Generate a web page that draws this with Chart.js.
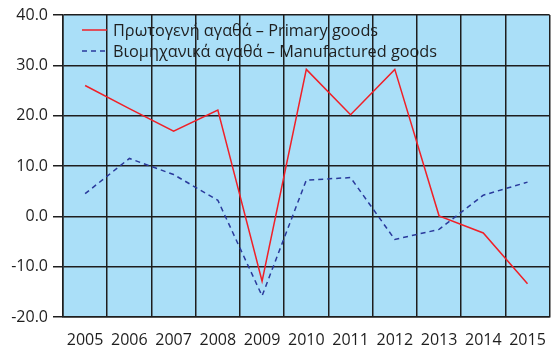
<!DOCTYPE html>
<html>
<head>
<meta charset="utf-8">
<script src="https://cdn.jsdelivr.net/npm/chart.js@4/dist/chart.umd.min.js"></script>
<style>
  html, body { margin: 0; padding: 0; background: #fff; overflow: hidden; }
  #wrap { width: 560px; height: 353px; }
</style>
</head>
<body>
<div id="wrap"><canvas id="tradeChart" width="560" height="353"></canvas></div>
<script>
// Annual change (%) by product group
const years = ["2005", "2006", "2007", "2008", "2009", "2010", "2011", "2012", "2013", "2014", "2015"];
const primaryGoods = [26.0, 21.4, 16.9, 21.1, -12.9, 29.2, 20.2, 29.2, 0.1, -3.3, -13.4];
const manufacturedGoods = [4.5, 11.5, 8.3, 3.2, -15.8, 7.2, 7.7, -4.6, -2.6, 4.2, 6.8];
const yTicks = [-20, -10, 0, 10, 20, 30, 40];

const FONT = "'Open Sans', 'Noto Sans', sans-serif";
const INK = "#1e1e1e";

// light blue fill behind the plot area
const plotBackground = {
    id: "plotBackground",
    beforeDraw(chart) {
        const { ctx, chartArea: a } = chart;
        ctx.save();
        ctx.fillStyle = "#aadff8";
        ctx.fillRect(a.left, a.top, a.right - a.left, a.bottom - a.top);
        ctx.restore();
    }
};

// legend drawn inside the plot, top left
const innerLegend = {
    id: "innerLegend",
    afterDatasetsDraw(chart) {
        const { ctx, chartArea: a } = chart;
        ctx.save();
        ctx.font = "16.3px " + FONT;
        ctx.textBaseline = "middle";
        chart.data.datasets.forEach((ds, i) => {
            const y = a.top + 15 + i * 21;
            const x = a.left + 19;
            ctx.strokeStyle = ds.borderColor;
            ctx.lineWidth = 1.5;
            ctx.setLineDash(ds.borderDash || []);
            ctx.beginPath();
            ctx.moveTo(x, y);
            ctx.lineTo(x + 25, y);
            ctx.stroke();
            ctx.setLineDash([]);
            ctx.fillStyle = INK;
            ctx.fillText(ds.label, x + 31, y + 1);
        });
        ctx.restore();
    }
};

new Chart(document.getElementById("tradeChart"), {
    type: "line",
    data: {
        labels: years,
        datasets: [
            {
                label: "Πρωτογενή αγαθά – Primary goods",
                data: primaryGoods,
                borderColor: "#f02028",
                borderWidth: 1.5,
                pointRadius: 0,
                tension: 0
            },
            {
                label: "Βιομηχανικά αγαθά – Manufactured goods",
                data: manufacturedGoods,
                borderColor: "#2a3a9c",
                borderWidth: 1.5,
                borderDash: [5, 4],
                pointRadius: 0,
                tension: 0
            }
        ]
    },
    options: {
        responsive: false,
        animation: false,
        layout: { padding: { top: 15, right: 4, left: 0, bottom: 0 } },
        plugins: {
            legend: { display: false },
            tooltip: { enabled: false }
        },
        scales: {
            x: {
                offset: true,
                grid: { color: INK, lineWidth: 1.5, offset: true, tickLength: 0, drawTicks: false },
                border: { color: INK, width: 1.5 },
                ticks: { color: INK, font: { family: FONT, size: 16 }, padding: 14, maxRotation: 0 },
                afterFit: s => { s.height = 36; }
            },
            y: {
                min: -20,
                max: 40,
                afterBuildTicks: s => { s.ticks = yTicks.map(v => ({ value: v })); },
                grid: { color: INK, lineWidth: 1.5, tickLength: 10 },
                border: { color: INK, width: 1.5 },
                ticks: {
                    color: INK,
                    font: { family: FONT, size: 16 },
                    padding: 5,
                    callback: v => Number(v).toFixed(1)
                },
                afterFit: s => { s.width = 63; }
            }
        }
    },
    plugins: [plotBackground, innerLegend]
});
</script>
</body>
</html>
